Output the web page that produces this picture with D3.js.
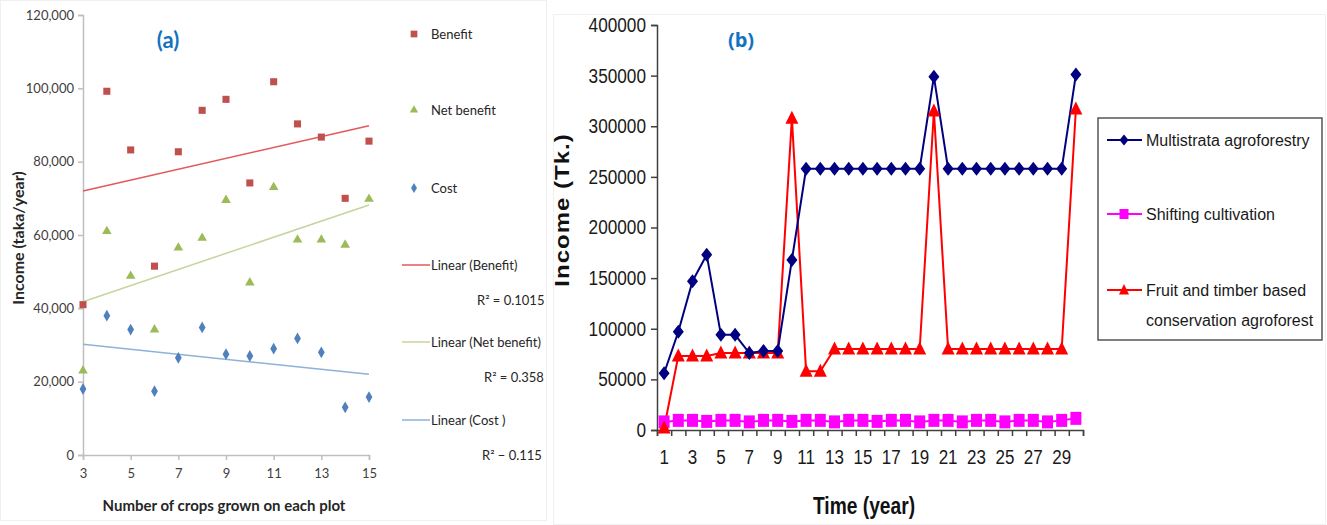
<!DOCTYPE html>
<html><head><meta charset="utf-8">
<script src="https://cdn.jsdelivr.net/npm/d3@7"></script>
<style>html,body{margin:0;padding:0;background:#fff;}svg{display:block;}</style>
</head><body>
<svg id="c" width="1327" height="525"></svg>
<script>
// ---------- Panel (a) data ----------
const cropCounts = [3,4,5,6,7,8,9,10,11,12,13,14,15];
const benefit    = [41000,99200,83200,51500,82700,94000,97000,74200,101800,90300,86700,70000,85600];
const netBenefit = [23000,61000,48800,34200,56500,59200,69500,47000,73000,58700,58700,57300,69800];
const cost       = [18000,38000,34200,17400,26500,34800,27500,27000,29000,31800,28000,13000,15800];
const trendX       = [3,15];
const trendBenefit = [72000,89800];
const trendNet     = [41800,68200];
const trendCost    = [30200,22000];
const aYTicks = [0,20000,40000,60000,80000,100000,120000];
const aXTicks = [3,5,7,9,11,13,15];
const aLegendSeries = ["Benefit","Net benefit","Cost"];
const aLegendTrends = ["Linear (Benefit)","Linear (Net benefit)","Linear (Cost )"];
const aR2 = ["R\u00B2 = 0.1015","R\u00B2 = 0.358","R\u00B2 \u2212 0.115"];

// ---------- Panel (b) data ----------
const years = d3.range(1,31);
const multistrata = [56000,97000,147000,173000,94000,94000,76000,78000,78000,168000,
  258000,258000,258000,258000,258000,258000,258000,258000,258000,349000,
  258000,258000,258000,258000,258000,258000,258000,258000,258000,351000];
const shifting = [8000,9500,9500,8500,9500,9500,8000,9500,9500,8500,9500,9500,8000,9500,9500,
  8500,9500,9500,8000,9500,9500,8000,9500,9500,8000,9500,9500,8000,9500,11500];
const fruitTimber = [2000,73000,73000,73000,76000,76000,76000,76000,76000,308000,
  58000,58000,80000,80000,80000,80000,80000,80000,80000,315000,
  80000,80000,80000,80000,80000,80000,80000,80000,80000,317000];
const bYTicks = [0,50000,100000,150000,200000,250000,300000,350000,400000];
const bXTickLabels = [1,3,5,7,9,11,13,15,17,19,21,23,25,27,29];
const bLegend = ["Multistrata agroforestry","Shifting cultivation",["Fruit and timber based","conservation agroforest"]];

const svg = d3.select("#c");
function squeeze(sel, f){ sel.each(function(){ const w=this.getComputedTextLength(); d3.select(this).attr("textLength", w*f).attr("lengthAdjust","spacingAndGlyphs"); }); }

// panel frames
svg.append("rect").attr("x",0.5).attr("y",0.5).attr("width",546).attr("height",520).attr("fill","none").attr("stroke","#f0f0f0");
svg.append("rect").attr("x",553.5).attr("y",14.5).attr("width",772).attr("height",510).attr("fill","none").attr("stroke","#f0f0f0");

// ================= Panel (a) =================
const ax = d3.scaleLinear().domain([3,15]).range([83,369]);
const ay = d3.scaleLinear().domain([0,120000]).range([455,15]);
const aFont = "Lato, 'Open Sans', sans-serif";
const ga = svg.append("g");

const yAxA = ga.append("g").attr("transform","translate(83,0)")
  .call(d3.axisLeft(ay).tickValues(aYTicks).tickSize(5).tickFormat(d3.format(",")));
const xAxA = ga.append("g").attr("transform","translate(0,455)")
  .call(d3.axisBottom(ax).tickValues(aXTicks).tickSize(5).tickFormat(d3.format("d")));
[yAxA,xAxA].forEach(g=>{
  g.select(".domain").attr("stroke","#bfbfbf").attr("stroke-width",1.5);
  g.selectAll(".tick line").attr("stroke","#bfbfbf").attr("stroke-width",1.5);
  g.selectAll("text").attr("font-family",aFont).attr("font-size",13).attr("fill","#404040");
});
yAxA.selectAll("text").attr("x",-9);
xAxA.selectAll("text").attr("y",14);

// trend lines
const trendColors = ["#e3585a","#c3d69b","#8eb1da"];
[trendBenefit,trendNet,trendCost].forEach((t,i)=>{
  ga.append("line").attr("x1",ax(trendX[0])).attr("x2",ax(trendX[1]))
    .attr("y1",ay(t[0])).attr("y2",ay(t[1])).attr("stroke",trendColors[i]).attr("stroke-width",1.5);
});

const cRed="#c0504d", cGreen="#9bbb59", cBlue="#4f81bd";
const sq = d3.symbol().type(d3.symbolSquare).size(50);
const tri = d3.symbol().type(d3.symbolTriangle).size(40);
const dia = d3.symbol().type(d3.symbolDiamond).size(40);
function drawPts(vals, sym, col){
  ga.append("g").selectAll("path").data(vals).join("path")
    .attr("transform",(d,i)=>`translate(${ax(cropCounts[i])},${ay(d)})`)
    .attr("d",sym).attr("fill",col);
}
drawPts(cost, dia, cBlue);
drawPts(netBenefit, tri, cGreen);
drawPts(benefit, sq, cRed);

ga.append("text").attr("x",168).attr("y",48).attr("text-anchor","middle")
  .attr("font-family",aFont).attr("font-weight","bold").attr("font-size",22).attr("fill","#1473c0").text("(a)");

ga.append("text").attr("transform","translate(24,238) rotate(-90)").attr("text-anchor","middle")
  .attr("font-family",aFont).attr("font-weight","bold").attr("font-size",16).attr("fill","#262626")
  .text("Income (taka/year)");
ga.append("text").attr("x",224).attr("y",511).attr("text-anchor","middle")
  .attr("font-family",aFont).attr("font-weight","bold").attr("font-size",15).attr("fill","#262626")
  .text("Number of crops grown on each plot");

// legend (a)
const aLegY = [34,110,188];
const aSyms = [d3.symbol().type(d3.symbolSquare).size(45), d3.symbol().type(d3.symbolTriangle).size(30), d3.symbol().type(d3.symbolDiamond).size(30)];
const aCols = [cRed,cGreen,cBlue];
aLegendSeries.forEach((s,i)=>{
  ga.append("path").attr("transform",`translate(414,${aLegY[i]})`).attr("d",aSyms[i]).attr("fill",aCols[i]);
  ga.append("text").attr("x",431).attr("y",aLegY[i]+5).attr("font-family",aFont).attr("font-size",13).attr("fill","#262626").text(s);
});
const aTrY = [265,342,420];
const aR2X = [477,484,482];
aLegendTrends.forEach((s,i)=>{
  ga.append("line").attr("x1",402).attr("x2",430).attr("y1",aTrY[i]).attr("y2",aTrY[i]).attr("stroke",trendColors[i]).attr("stroke-width",1.5);
  ga.append("text").attr("x",431).attr("y",aTrY[i]+5).attr("font-family",aFont).attr("font-size",13).attr("fill","#262626").text(s);
  ga.append("text").attr("x",aR2X[i]).attr("y",aTrY[i]+40).attr("font-family",aFont).attr("font-size",13).attr("fill","#262626").text(aR2[i]);
});

// ================= Panel (b) =================
const bFont = "'Liberation Sans', Arial, sans-serif";
const bx = d3.scaleBand().domain(years).range([657,1083]);
const bxEdge = d3.scaleLinear().domain([0.5,30.5]).range([657,1083]);
const by = d3.scaleLinear().domain([0,400000]).range([430,25]);
const gb = svg.append("g");

const yAxB = gb.append("g").attr("transform","translate(657,0)")
  .call(d3.axisLeft(by).tickValues(bYTicks).tickSize(6).tickFormat(d3.format("d")));
yAxB.select(".domain").attr("stroke","#404040").attr("stroke-width",1.5);
yAxB.selectAll(".tick line").attr("stroke","#404040").attr("stroke-width",1.5);
yAxB.selectAll("text").attr("font-family",bFont).attr("font-size",20).attr("fill","#1a1a1a").attr("x",-11);
squeeze(yAxB.selectAll("text"),0.86);

const xTickB = gb.append("g").attr("transform","translate(0,430)")
  .call(d3.axisBottom(bxEdge).tickValues(d3.range(0.5,31,1)).tickSize(6).tickFormat(""));
xTickB.select(".domain").attr("stroke","#404040").attr("stroke-width",1.5);
xTickB.selectAll(".tick line").attr("stroke","#404040").attr("stroke-width",1.5);
const xLabB = gb.append("g").attr("transform","translate(0,430)")
  .call(d3.axisBottom(bx).tickValues(bXTickLabels).tickSize(0));
xLabB.select(".domain").remove();
xLabB.selectAll("text").attr("font-family",bFont).attr("font-size",20).attr("fill","#1a1a1a").attr("y",20);
squeeze(xLabB.selectAll("text"),0.85);

const cx = d => bx(d)+bx.bandwidth()/2;
const line = d3.line().x((d,i)=>cx(years[i])).y(d=>by(d));
const bNavy="#000080", bMag="#ff00ff", bRedC="#ff0000";
gb.append("path").datum(shifting).attr("d",line).attr("fill","none").attr("stroke",bMag).attr("stroke-width",2);
gb.append("path").datum(fruitTimber).attr("d",line).attr("fill","none").attr("stroke",bRedC).attr("stroke-width",2);
gb.append("path").datum(multistrata).attr("d",line).attr("fill","none").attr("stroke",bNavy).attr("stroke-width",2);

const diaPath = "M0,-7L5.5,0L0,7L-5.5,0Z";
const sqPath = "M-5.5,-6.5H5.5V6.5H-5.5Z";
const triPath = "M0,-7.5L6.5,5.5H-6.5Z";
gb.append("g").selectAll("path").data(shifting).join("path")
  .attr("transform",(d,i)=>`translate(${cx(years[i])},${by(d)})`).attr("d",sqPath).attr("fill",bMag);
gb.append("g").selectAll("path").data(fruitTimber).join("path")
  .attr("transform",(d,i)=>`translate(${cx(years[i])},${by(d)})`).attr("d",triPath).attr("fill",bRedC);
gb.append("g").selectAll("path").data(multistrata).join("path")
  .attr("transform",(d,i)=>`translate(${cx(years[i])},${by(d)})`).attr("d",diaPath).attr("fill",bNavy);

gb.append("text").attr("x",741).attr("y",47).attr("text-anchor","middle")
  .attr("font-family","'Open Sans', sans-serif").attr("font-weight","bold").attr("font-size",20).attr("fill","#1473c0").text("(b)");

gb.append("text").attr("transform","translate(569,210) scale(0.82,1) rotate(-90)").attr("text-anchor","middle")
  .attr("font-family",bFont).attr("font-weight","bold").attr("font-size",24).attr("fill","#111")
  .attr("letter-spacing",1).text("Income (Tk.)");
const xt = gb.append("text").attr("x",864).attr("y",514).attr("text-anchor","middle")
  .attr("font-family",bFont).attr("font-weight","bold").attr("font-size",24).attr("fill","#111").text("Time (year)");
squeeze(xt,0.8);

// legend (b)
gb.append("rect").attr("x",1098).attr("y",118).attr("width",224).attr("height",222)
  .attr("fill","#fff").attr("stroke","#555").attr("stroke-width",1.5);
const bLegY=[140,214,290];
const bLegCols=[bNavy,bMag,bRedC];
const bLegPaths=["M0,-5.5L4.5,0L0,5.5L-4.5,0Z","M-4.5,-5H4.5V5H-4.5Z","M0,-6L5,4.5H-5Z"];
bLegend.forEach((s,i)=>{
  gb.append("line").attr("x1",1107).attr("x2",1142).attr("y1",bLegY[i]).attr("y2",bLegY[i]).attr("stroke",bLegCols[i]).attr("stroke-width",2);
  gb.append("path").attr("transform",`translate(1124,${bLegY[i]})`).attr("d",bLegPaths[i]).attr("fill",bLegCols[i]);
  const lines = Array.isArray(s)?s:[s];
  lines.forEach((t,j)=>{
    gb.append("text").attr("x",1146).attr("y",bLegY[i]+6+j*30).attr("font-family",bFont).attr("font-size",16).attr("fill","#1a1a1a").text(t);
  });
});
</script>
</body></html>
